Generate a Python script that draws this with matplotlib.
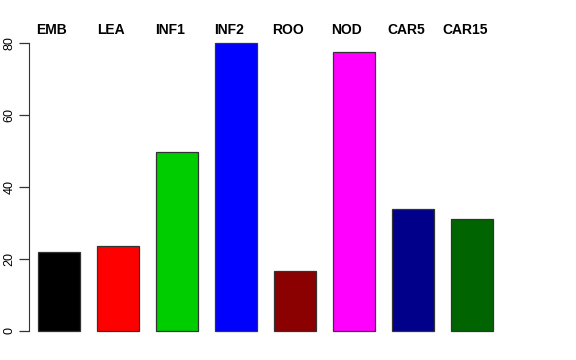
import matplotlib
matplotlib.use("Agg")
import matplotlib.pyplot as plt
import numpy as np

categories = ["EMB", "LEA", "INF1", "INF2", "ROO", "NOD", "CAR5", "CAR15"]
values = [21.9, 23.6, 49.7, 80.0, 16.7, 77.5, 33.9, 31.1]
colors = ["#000000", "#FF0000", "#00CD00", "#0000FF", "#8B0000", "#FF00FF", "#00008B", "#006400"]
yticks = [0, 20, 40, 60, 80]

plt.rcParams['font.family'] = ['Liberation Sans', 'DejaVu Sans']

fig = plt.figure(figsize=(5.76, 3.6), dpi=100)
W, H = 576, 360
ax = fig.add_axes([29 / W, 17.5 / H, (547 - 29) / W, (342.5 - 31.5) / H])

x = np.arange(len(categories)) * 1.2 + 0.7
bw = 0.854
ax.bar(x, values, width=bw, color=colors, edgecolor="#333333", linewidth=0.9)

ax.set_xlim(0.09, 10.62)
ax.set_ylim(-3.2, 83.2)

for s in ["top", "right", "bottom"]:
    ax.spines[s].set_visible(False)
ax.spines["left"].set_bounds(0, 80)
ax.spines["left"].set_color("#333333")
ax.set_xticks([])
ax.set_yticks(yticks)
ax.set_yticklabels([str(t) for t in yticks], rotation=90, va="center", fontsize=9)
ax.tick_params(axis="y", length=7, width=0.9, color="#333333", pad=2.5)

for xi, lab in zip(x, categories):
    ax.text(xi - 0.15, 82.5, lab, ha="center", va="baseline",
            fontsize=10, fontweight="bold", clip_on=False)

fig.savefig("out.png", dpi=100)
